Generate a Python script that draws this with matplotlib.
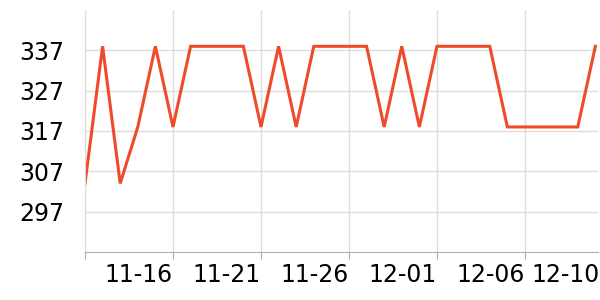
import matplotlib
matplotlib.use("Agg")
import matplotlib.pyplot as plt
import matplotlib.transforms as mtransforms

# --- data ---
dates = ["11-11", "11-12", "11-13", "11-14", "11-15", "11-16", "11-17", "11-18", "11-19", "11-20",
         "11-21", "11-22", "11-23", "11-24", "11-25", "11-26", "11-27", "11-28", "11-29", "11-30",
         "12-01", "12-02", "12-03", "12-04", "12-05", "12-06", "12-07", "12-08", "12-09", "12-10"]
values = [304, 338, 304, 318, 338, 318, 338, 338, 338, 338,
          318, 338, 318, 338, 338, 338, 338, 318, 338, 318,
          338, 338, 338, 338, 318, 318, 318, 318, 318, 338]
y_ticks = [297, 307, 317, 327, 337]
x_label_dates = ["11-16", "11-21", "11-26", "12-01", "12-06"]
last_label = "12-10"

LINE_COLOR = "#ef4a2c"
GRID_COLOR = "#dcdcdc"

fig = plt.figure(figsize=(6, 3), dpi=100)
ax = fig.add_axes([85 / 600, 1 - 252 / 300, (598 - 85) / 600, (252 - 10) / 300])

x = list(range(len(dates)))
ax.plot(x, values, color=LINE_COLOR, linewidth=2.2, solid_joinstyle="miter")

ax.set_xlim(0, 29.15)
ax.set_ylim(287, 347)

# y axis
ax.set_yticks(y_ticks)
ax.set_yticklabels([str(v) for v in y_ticks], fontsize=17)
ax.tick_params(axis="y", length=0, pad=15)

# x axis: gridlines at every 5 days, labels right-aligned on the ticks
major_pos = [0] + [dates.index(d) for d in x_label_dates]
ax.set_xticks(major_pos)
ax.set_xticklabels([""] + x_label_dates, fontsize=17, ha="right")
ax.set_xticks([dates.index(last_label)], minor=True)
ax.set_xticklabels([last_label], minor=True, fontsize=17, ha="right")
ax.tick_params(axis="x", which="major", length=5, color="#b0b0b0", pad=3)
ax.tick_params(axis="x", which="minor", length=0, pad=8)
shift = mtransforms.ScaledTranslation(4 / 100, 0, fig.dpi_scale_trans)
for lbl in ax.get_xticklabels(minor=True):
    lbl.set_transform(lbl.get_transform() + shift)

ax.grid(True, which="major", color=GRID_COLOR, linewidth=1)
ax.set_axisbelow(True)

for side in ["top", "right"]:
    ax.spines[side].set_visible(False)
ax.spines["left"].set_color(GRID_COLOR)
ax.spines["bottom"].set_color("#b0b0b0")

fig.savefig("out.png", dpi=100)
